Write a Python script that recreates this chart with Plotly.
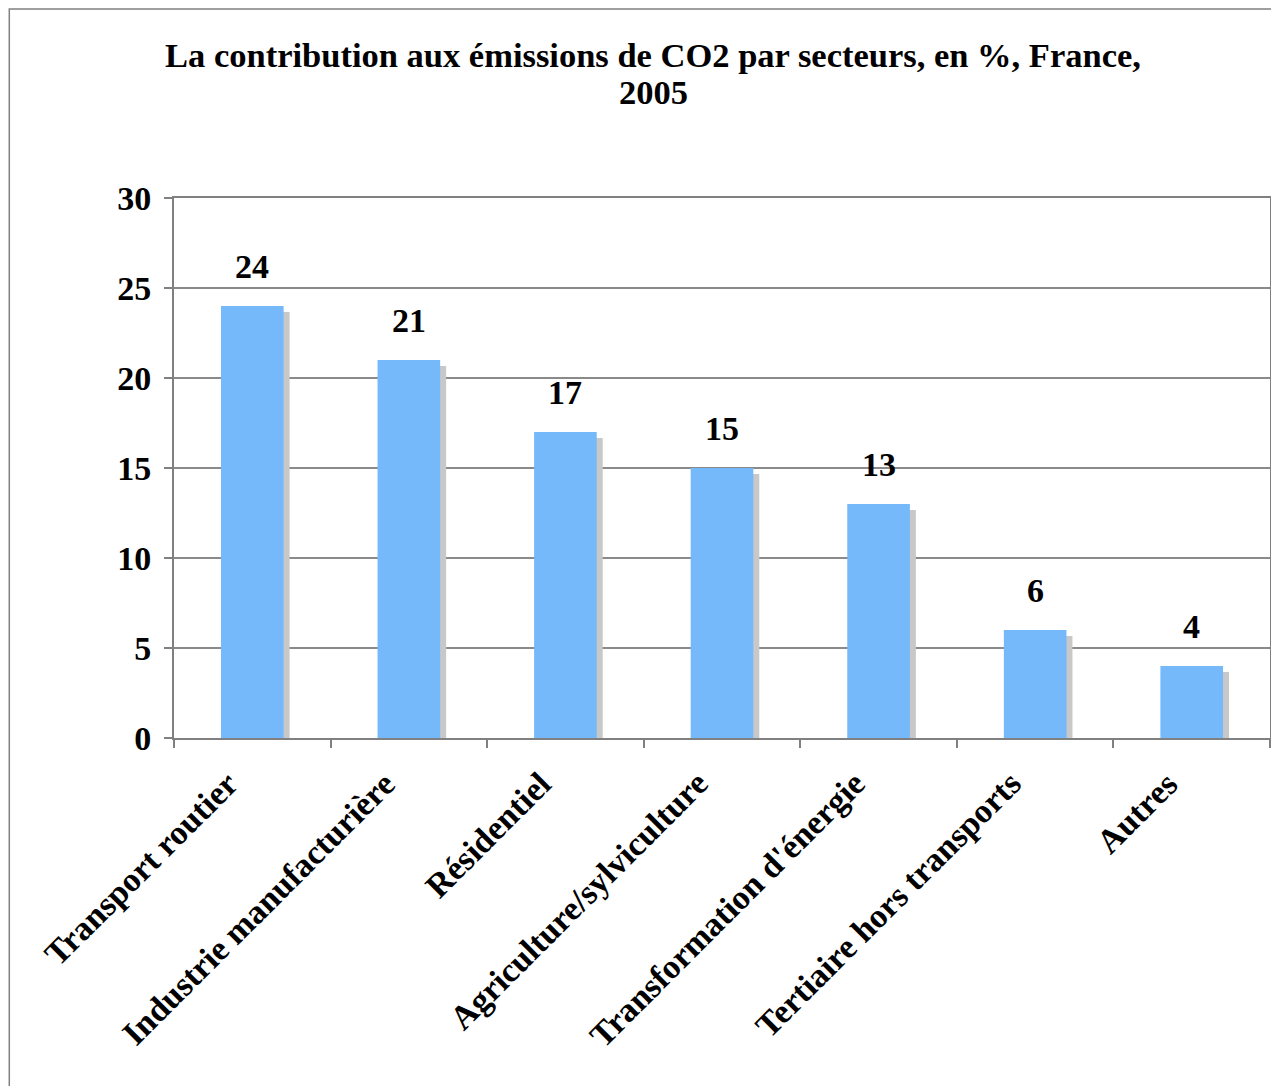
import plotly.graph_objects as go

categories = ["Transport routier", "Industrie manufacturière", "Résidentiel",
              "Agriculture/sylviculture", "Transformation d'énergie",
              "Tertiaire hors transports", "Autres"]
values = [24, 21, 17, 15, 13, 6, 4]
y_ticks = [0, 5, 10, 15, 20, 25, 30]
title_lines = ["La contribution aux émissions de CO2 par secteurs, en %, France,", "2005"]

FONT = "Liberation Serif, Times New Roman, serif"
BAR = "#75b9fb"
SHADOW = "#c8c8c8"
GRID = "#8a8a8a"

# page is offset by 8px body margin
W, H = 1271, 1078
L, R, T, B = 166, 7, 190, 348
pw = W - L - R
ph = H - T - B


def px_x(img_x):
    return (img_x - 8 - L) / pw


def px_y(img_y):
    return (H - B - (img_y - 8)) / ph


shadow_dy = 6 / ph * 30  # shadow drop in data units

fig = go.Figure()
fig.add_trace(go.Bar(
    x=categories, y=[v - shadow_dy for v in values],
    marker=dict(color=SHADOW, line=dict(width=0)),
    width=0.4, offset=-0.2 + 6 / (pw / 7),
    hoverinfo="skip", showlegend=False,
))
fig.add_trace(go.Bar(
    x=categories, y=values,
    marker=dict(color=BAR, line=dict(width=0)),
    width=0.4, offset=-0.2, showlegend=False,
))

for c, v in zip(categories, values):
    fig.add_annotation(x=c, y=v, text=f"<b>{v}</b>", showarrow=False,
                       yanchor="middle", yshift=40,
                       font=dict(family=FONT, size=34, color="black"))

for c in categories:
    fig.add_annotation(x=c, y=0, text=f"<b>{c}</b>", showarrow=False,
                       textangle=-45, xanchor="right", yanchor="top",
                       xshift=-4, yshift=-24,
                       font=dict(family=FONT, size=34, color="black"))

for line, yc in zip(title_lines, [55, 92]):
    fig.add_annotation(xref="paper", yref="paper", x=px_x(654), y=px_y(yc),
                       text=f"<b>{line}</b>", showarrow=False,
                       xanchor="center", yanchor="middle",
                       font=dict(family=FONT, size=34.5, color="black"))

# outer chart border (top and left visible)
fig.add_shape(type="rect", xref="paper", yref="paper",
              x0=px_x(9), x1=px_x(1300), y0=px_y(1100), y1=px_y(9),
              line=dict(color="#808080", width=1.5), layer="below")

fig.update_layout(
    width=W, height=H,
    margin=dict(l=L, r=R, t=T, b=B),
    paper_bgcolor="white", plot_bgcolor="white",
    barmode="overlay",
    font=dict(family=FONT, color="black"),
)
fig.update_xaxes(
    type="category", range=[-0.5, len(categories) - 0.5], autorange=False,
    showticklabels=False,
    showline=True, linecolor="#808080", linewidth=2, mirror=True,
    ticks="outside", tickson="boundaries", ticklen=8, tickcolor="#808080", tickwidth=2,
    showgrid=False,
)
fig.update_yaxes(
    range=[0, 30], autorange=False, tickvals=y_ticks,
    ticktext=[f"<b>{t}</b>" for t in y_ticks],
    tickfont=dict(family=FONT, size=34, color="black"),
    ticklabelstandoff=6,
    showline=True, linecolor="#808080", linewidth=2, mirror=True,
    ticks="outside", ticklen=8, tickcolor="#808080", tickwidth=2,
    showgrid=True, gridcolor=GRID, gridwidth=1.5, zeroline=False,
)

fig.write_html("out.html")
